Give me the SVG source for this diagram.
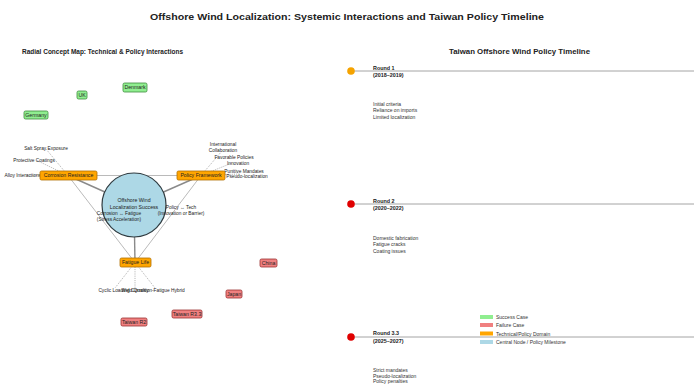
<svg xmlns="http://www.w3.org/2000/svg" width="694" height="387" viewBox="0 0 694 387">
  <style>
    text { font-family: "Liberation Sans", Arial, sans-serif; fill: #222; }
    .title { font-size: 9.6px; font-weight: bold; text-anchor: middle; }
    .sub { font-size: 6.4px; font-weight: bold; text-anchor: middle; }
    .lbl { font-size: 5.2px; text-anchor: middle; }
    .small { font-size: 4.8px; fill: #333; }
    .mid { text-anchor: middle; }
    .end { text-anchor: end; }
    .dom rect { fill: #FFA500; stroke: #B07000; stroke-width: 0.8; }
    .ok rect { fill: #90EE90; stroke: #3C8C3C; stroke-width: 0.8; }
    .bad rect { fill: #F08080; stroke: #9B3030; stroke-width: 0.8; }
    .spoke { stroke: #8A8A8A; stroke-width: 1.4; fill: none; }
    .tri { stroke: #A8A8A8; stroke-width: 0.8; fill: none; }
    .dot { stroke: #777; stroke-width: 0.6; stroke-dasharray: 1 1.2; fill: none; }
    .tl { stroke: #9A9A9A; stroke-width: 0.9; }
    .round { font-size: 5.4px; font-weight: bold; }
    .note { font-size: 5px; fill: #333; }
    .leg { font-size: 5px; fill: #333; }
  </style>

  <rect width="694" height="387" fill="#ffffff"/>

  <text class="title" x="347" y="20" textLength="394" lengthAdjust="spacingAndGlyphs">Offshore Wind Localization: Systemic Interactions and Taiwan Policy Timeline</text>
  <text class="sub" x="102.5" y="54" textLength="161" lengthAdjust="spacingAndGlyphs">Radial Concept Map: Technical &amp; Policy Interactions</text>
  <text class="sub" x="519.5" y="54" textLength="141" lengthAdjust="spacingAndGlyphs">Taiwan Offshore Wind Policy Timeline</text>

  <!-- connectors of the concept map -->
  <g id="connectors">
    <line class="tri" x1="68" y1="175.5" x2="201" y2="175.5"/>
    <line class="tri" x1="68" y1="175.5" x2="135" y2="262.5"/>
    <line class="tri" x1="201" y1="175.5" x2="135" y2="262.5"/>
    <line class="spoke" x1="134" y1="205" x2="68" y2="175.5"/>
    <line class="spoke" x1="134" y1="205" x2="201" y2="175.5"/>
    <line class="spoke" x1="134" y1="205" x2="135" y2="262.5"/>
    <!-- sub-topic links -->
    <line class="dot" x1="68" y1="175.5" x2="46" y2="149"/>
    <line class="dot" x1="68" y1="175.5" x2="36" y2="160"/>
    <line class="dot" x1="68" y1="175.5" x2="26" y2="175"/>
    <line class="dot" x1="201" y1="175.5" x2="222" y2="151"/>
    <line class="dot" x1="201" y1="175.5" x2="232" y2="163"/>
    <line class="dot" x1="201" y1="175.5" x2="240" y2="174"/>
    <line class="dot" x1="135" y1="262.5" x2="115" y2="288"/>
    <line class="dot" x1="135" y1="262.5" x2="135" y2="288"/>
    <line class="dot" x1="135" y1="262.5" x2="155" y2="288"/>
  </g>

  <!-- sub-topic labels -->
  <g id="corrosion-topics" class="small">
    <text class="mid" x="46" y="149.5">Salt Spray Exposure</text>
    <text class="mid" x="34" y="161.5">Protective Coatings</text>
    <text class="end" x="41" y="177">Alloy Interactions</text>
  </g>
  <g id="policy-topics" class="small">
    <text class="mid" x="223" y="146">International</text>
    <text class="mid" x="223" y="151.5">Collaboration</text>
    <text class="mid" x="234" y="159">Favorable Policies</text>
    <text class="mid" x="238" y="164.5">Innovation</text>
    <text class="mid" x="244" y="172.5">Punitive Mandates</text>
    <text class="mid" x="247" y="178">Pseudo-localization</text>
  </g>
  <g id="fatigue-topics" class="small">
    <text class="mid" x="114" y="291.5">Cyclic Loading</text>
    <text class="mid" x="135" y="291.5">Weld Quality</text>
    <text class="mid" x="158" y="291.5">Corrosion-Fatigue Hybrid</text>
  </g>

  <g id="center">
    <circle cx="134" cy="205" r="32" fill="#ADD8E6" stroke="#2F3B40" stroke-width="1.2"/>
    <text class="lbl" x="134" y="202">Offshore Wind</text>
    <text class="lbl" x="134" y="209">Localization Success</text>
  </g>

  <!-- edge labels, drawn over the centre node -->
  <g id="edge-labels" class="small">
    <text class="mid" x="119" y="215">Corrosion ↔ Fatigue</text>
    <text class="mid" x="119" y="221">(Stress Acceleration)</text>
    <text class="mid" x="181" y="209">Policy ↔ Tech</text>
    <text class="mid" x="181" y="214.5">(Innovation or Barrier)</text>
  </g>

  <g id="corrosion" class="dom">
    <rect x="40" y="171" width="57" height="9" rx="1.5"/>
    <text class="lbl" x="68.5" y="177.4">Corrosion Resistance</text>
  </g>
  <g id="policy" class="dom">
    <rect x="177" y="171" width="48" height="9" rx="1.5"/>
    <text class="lbl" x="201" y="177.4">Policy Framework</text>
  </g>
  <g id="fatigue" class="dom">
    <rect x="120" y="258" width="31" height="9" rx="1.5"/>
    <text class="lbl" x="135.5" y="264.4">Fatigue Life</text>
  </g>

  <g id="germany" class="ok">
    <rect x="24" y="111" width="24" height="8" rx="1.5"/>
    <text class="lbl" x="36" y="116.8">Germany</text>
  </g>
  <g id="uk" class="ok">
    <rect x="77" y="91" width="10" height="8" rx="1.5"/>
    <text class="lbl" x="82" y="96.8">UK</text>
  </g>
  <g id="denmark" class="ok">
    <rect x="123" y="83" width="24" height="9" rx="1.5"/>
    <text class="lbl" x="135" y="89.3">Denmark</text>
  </g>

  <g id="china" class="bad">
    <rect x="260" y="259" width="17" height="8" rx="1.5"/>
    <text class="lbl" x="268.5" y="264.8">China</text>
  </g>
  <g id="japan" class="bad">
    <rect x="226" y="290" width="16" height="8" rx="1.5"/>
    <text class="lbl" x="234" y="295.8">Japan</text>
  </g>
  <g id="taiwan-r33" class="bad">
    <rect x="172" y="310" width="30" height="8" rx="1.5"/>
    <text class="lbl" x="187" y="315.8">Taiwan R3.3</text>
  </g>
  <g id="taiwan-r2" class="bad">
    <rect x="121" y="318" width="26" height="8" rx="1.5"/>
    <text class="lbl" x="134" y="323.8">Taiwan R2</text>
  </g>

  <!-- policy timeline -->
  <g id="round-1">
    <line class="tl" x1="351" y1="71" x2="694" y2="71"/>
    <circle cx="351" cy="71" r="3.8" fill="#F5A300"/>
    <text class="round" x="373" y="69.5">Round 1</text>
    <text class="round" x="373" y="77" font-weight="normal">(2018–2019)</text>
    <text class="note" x="373" y="105.5">Initial criteria</text>
    <text class="note" x="373" y="112">Reliance on imports</text>
    <text class="note" x="373" y="118.5">Limited localization</text>
  </g>
  <g id="round-2">
    <line class="tl" x1="351" y1="204" x2="694" y2="204"/>
    <circle cx="351" cy="204" r="3.8" fill="#E00000"/>
    <text class="round" x="373" y="202.5">Round 2</text>
    <text class="round" x="373" y="210" font-weight="normal">(2020–2022)</text>
    <text class="note" x="373" y="239.5">Domestic fabrication</text>
    <text class="note" x="373" y="246">Fatigue cracks</text>
    <text class="note" x="373" y="252.5">Coating issues</text>
  </g>
  <g id="round-33">
    <line class="tl" x1="351" y1="337" x2="694" y2="337" stroke="#777"/>
    <circle cx="351" cy="337" r="3.8" fill="#E00000"/>
    <text class="round" x="373" y="335">Round 3.3</text>
    <text class="round" x="373" y="343" font-weight="normal">(2025–2027)</text>
    <text class="note" x="373" y="372">Strict mandates</text>
    <text class="note" x="373" y="377.5">Pseudo-localization</text>
    <text class="note" x="373" y="383">Policy penalties</text>
  </g>

  <g id="legend">
    <rect x="480" y="315" width="13" height="4" fill="#90EE90"/>
    <text class="leg" x="496" y="319">Success Case</text>
    <rect x="480" y="323" width="13" height="4" fill="#F08080"/>
    <text class="leg" x="496" y="327">Failure Case</text>
    <rect x="480" y="331.5" width="13" height="4" fill="#FFA500"/>
    <text class="leg" x="496" y="335.5">Technical/Policy Domain</text>
    <rect x="480" y="340" width="13" height="4" fill="#ADD8E6"/>
    <text class="leg" x="496" y="344">Central Node / Policy Milestone</text>
  </g>
</svg>
